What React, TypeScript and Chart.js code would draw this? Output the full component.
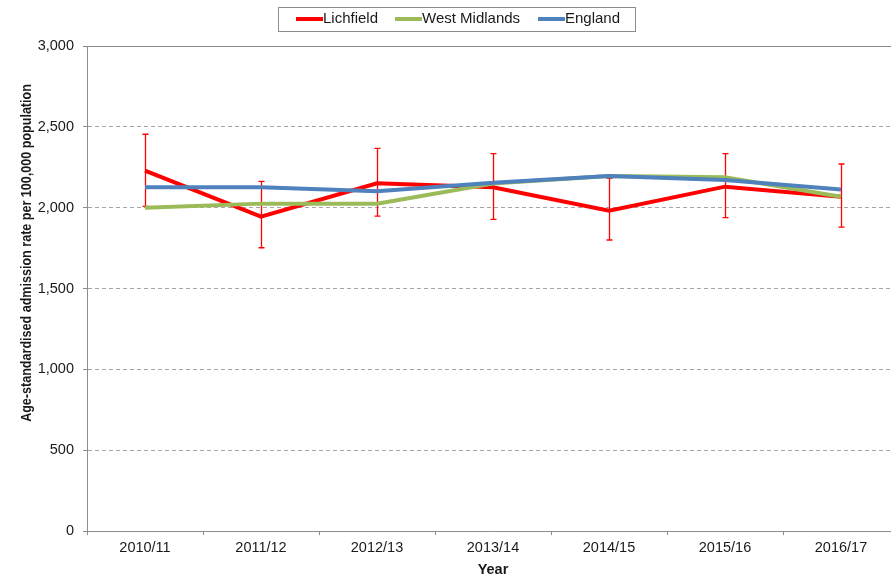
import React, { useEffect, useRef } from "react";
import { Chart, registerables } from "chart.js";

Chart.register(...registerables);

const categories = ["2010/11", "2011/12", "2012/13", "2013/14", "2014/15", "2015/16", "2016/17"];
const lichfield = [2229, 1944, 2151, 2126, 1981, 2130, 2068];
const lichfieldLower = [2008, 1752, 1948, 1928, 1800, 1938, 1880];
const lichfieldUpper = [2454, 2163, 2367, 2334, 2182, 2334, 2270];
const westMidlands = [2000, 2025, 2025, 2150, 2196, 2188, 2068];
const england = [2126, 2126, 2101, 2154, 2196, 2171, 2113];
const seriesNames = ["Lichfield", "West Midlands", "England"];
const seriesColors = ["#FF0000", "#9BBB59", "#4F81BD"];
const yMin = 0;
const yMax = 3000;
const yStep = 500;
const yTitle = "Age-standardised admission rate per 100,000 population";
const xTitle = "Year";

const FONT = "Arial, 'Liberation Sans', sans-serif";
const TEXT = "#1a1a1a";
const AXIS = "#8c8c8c";
const GRID = "#a6a6a6";

const errorBarsPlugin = {
  id: "errorBars",
  beforeDatasetsDraw(chart: any) {
    const { ctx, scales } = chart;
    const xs = scales.x;
    const ys = scales.y;
    ctx.save();
    ctx.strokeStyle = seriesColors[0];
    ctx.lineWidth = 1.3;
    for (let i = 0; i < categories.length; i++) {
      const x = Math.round(xs.getPixelForValue(i)) + 0.5;
      const yt = ys.getPixelForValue(lichfieldUpper[i]);
      const yb = ys.getPixelForValue(lichfieldLower[i]);
      ctx.beginPath();
      ctx.moveTo(x, yt);
      ctx.lineTo(x, yb);
      ctx.moveTo(x - 3, yt);
      ctx.lineTo(x + 3, yt);
      ctx.moveTo(x - 3, yb);
      ctx.lineTo(x + 3, yb);
      ctx.stroke();
    }
    ctx.restore();
  },
};

const decorPlugin = {
  id: "decor",
  beforeDatasetsDraw(chart: any) {
    const { ctx, scales, chartArea } = chart;
    const y = Math.round(scales.y.getPixelForValue(yMax)) + 0.5;
    ctx.save();
    ctx.strokeStyle = AXIS;
    ctx.lineWidth = 1;
    ctx.beginPath();
    ctx.moveTo(chartArea.left - 4, y);
    ctx.lineTo(chartArea.right, y);
    ctx.stroke();
    ctx.restore();
  },
  afterDraw(chart: any) {
    const { ctx } = chart;
    ctx.save();
    // y title
    ctx.fillStyle = TEXT;
    ctx.font = `bold 14.5px ${FONT}`;
    ctx.textAlign = "center";
    ctx.textBaseline = "middle";
    ctx.translate(27, 253);
    ctx.rotate(-Math.PI / 2);
    ctx.scale(0.866, 1);
    ctx.fillText(yTitle, 0, 0);
    ctx.restore();

    ctx.save();
    ctx.fillStyle = TEXT;
    ctx.font = `bold 14.5px ${FONT}`;
    ctx.textAlign = "center";
    ctx.textBaseline = "middle";
    const ca = chart.chartArea;
    ctx.fillText(xTitle, (ca.left + ca.right) / 2, 570);
    ctx.restore();

    // legend
    ctx.save();
    ctx.fillStyle = "#ffffff";
    ctx.fillRect(278.5, 7.5, 357, 24);
    ctx.strokeStyle = AXIS;
    ctx.lineWidth = 1;
    ctx.strokeRect(278.5, 7.5, 357, 24);
    const starts = [296, 395, 538];
    ctx.font = `15px ${FONT}`;
    ctx.textBaseline = "middle";
    ctx.textAlign = "left";
    for (let i = 0; i < seriesNames.length; i++) {
      ctx.strokeStyle = seriesColors[i];
      ctx.lineWidth = 4;
      ctx.beginPath();
      ctx.moveTo(starts[i], 19);
      ctx.lineTo(starts[i] + 27, 19);
      ctx.stroke();
      ctx.fillStyle = TEXT;
      ctx.fillText(seriesNames[i], starts[i] + 27, 19);
    }
    ctx.restore();
  },
};

export default function App() {
  const canvasRef = useRef<HTMLCanvasElement | null>(null);

  useEffect(() => {
    if (!canvasRef.current) return;
    const chart = new Chart(canvasRef.current, {
      type: "line",
      data: {
        labels: categories,
        datasets: [
          { label: seriesNames[0], data: lichfield, borderColor: seriesColors[0], backgroundColor: seriesColors[0], borderWidth: 4, pointRadius: 0, tension: 0, order: 3 },
          { label: seriesNames[1], data: westMidlands, borderColor: seriesColors[1], backgroundColor: seriesColors[1], borderWidth: 4, pointRadius: 0, tension: 0, order: 2 },
          { label: seriesNames[2], data: england, borderColor: seriesColors[2], backgroundColor: seriesColors[2], borderWidth: 4, pointRadius: 0, tension: 0, order: 1 },
        ],
      },
      options: {
        animation: false,
        responsive: true,
        maintainAspectRatio: false,
        layout: { padding: { left: 0, right: 1, top: 46, bottom: 0 } },
        plugins: {
          legend: { display: false },
          tooltip: { enabled: false },
          title: { display: false },
        },
        scales: {
          x: {
            type: "category",
            offset: true,
            grid: {
              display: true,
              offset: true,
              drawOnChartArea: false,
              drawTicks: true,
              tickLength: 4,
              tickColor: AXIS,
              color: AXIS,
            },
            border: { display: true, color: AXIS, width: 1 },
            ticks: { color: TEXT, font: { family: FONT, size: 14.5 }, padding: 4, maxRotation: 0, autoSkip: false },
            afterFit(scale: any) {
              scale.height = 47;
            },
          },
          y: {
            min: yMin,
            max: yMax,
            grid: {
              color: (c: any) => (c.tick && c.tick.value === yMax ? "rgba(0,0,0,0)" : GRID),
              drawTicks: true,
              tickLength: 4,
              tickColor: AXIS,
            },
            border: { display: true, color: AXIS, width: 1, dash: [4, 3] },
            ticks: {
              stepSize: yStep,
              color: TEXT,
              font: { family: FONT, size: 14.5 },
              padding: 9,
              callback: (v: any) => Number(v).toLocaleString("en-GB"),
            },
            afterFit(scale: any) {
              scale.width = 87;
            },
          },
        },
      },
      plugins: [errorBarsPlugin, decorPlugin],
    });
    return () => chart.destroy();
  }, []);

  return (
    <div style={{ position: "fixed", left: 0, top: 0, width: 891, height: 578, overflow: "hidden", background: "#fff" }}>
      <div style={{ position: "relative", width: 900, height: 578 }}>
        <canvas ref={canvasRef} />
      </div>
    </div>
  );
}
